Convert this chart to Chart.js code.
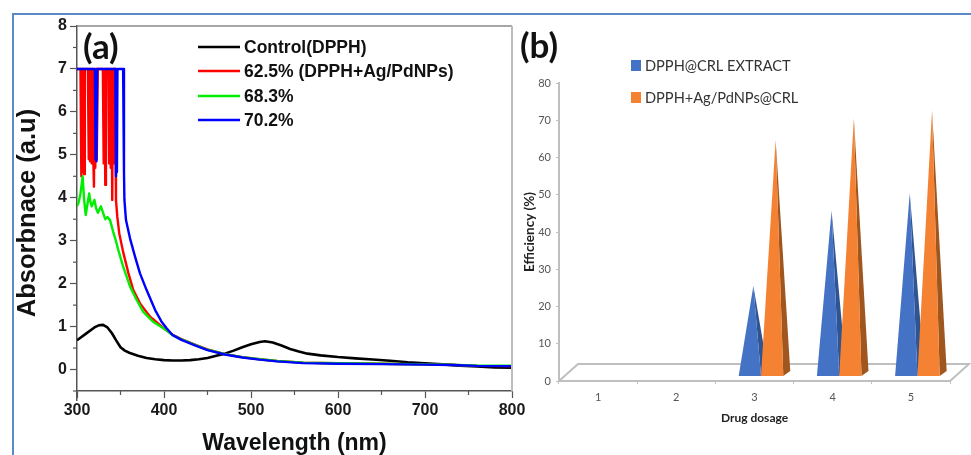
<!DOCTYPE html>
<html>
<head>
<meta charset="utf-8">
<script src="https://cdn.jsdelivr.net/npm/chart.js@4"></script>
<style>
html,body{margin:0;padding:0;background:#fff;width:971px;height:455px;overflow:hidden}
#frame{position:absolute;left:12px;top:13px;width:1000px;height:500px;border:2px solid #5b8ac6;box-sizing:border-box}
canvas{position:absolute;top:0}
#a{left:0}
#b{left:515px}
</style>
</head>
<body>
<div id="frame"></div>
<canvas id="a" width="540" height="455"></canvas>
<canvas id="b" width="456" height="455"></canvas>
<script>
const wlControl=[300,310,320,325,330,335,340,345,350,355,360,370,380,390,400,410,420,430,440,450,460,470,480,490,500,510,516,525,535,545,555,565,580,600,620,640,660,680,700,720,740,760,780,800];
const absControl=[0.68,0.83,0.98,1.03,1.04,0.98,0.85,0.68,0.52,0.44,0.39,0.32,0.27,0.24,0.22,0.21,0.21,0.22,0.24,0.27,0.32,0.37,0.44,0.52,0.59,0.64,0.66,0.63,0.56,0.48,0.42,0.37,0.33,0.29,0.26,0.235,0.205,0.17,0.145,0.12,0.09,0.07,0.05,0.04];
const wlRed=[300,304,305,305.8,306.6,307.4,308.2,309,309.8,312.5,313.5,314.3,315,316,317,317.8,318.6,319.5,320.3,321,322,322.7,324,329.7,330.7,331.5,332.5,333.3,334.3,336,337,337.8,338.8,339.5,340.5,341.4,342.2,343,343.7,344.8,346.3,348.6,353,359,364.7,372.4,384,401,410,420,437,450,470,490,510,530,560,600,650,700,730,760,800];
const absRed=[7,7,4.5,7,4.6,7,4.55,7,7,7,4.9,7,4.85,7,4.8,7,5.0,4.26,7,4.7,7,4.9,7,7,4.8,7,4.3,7,7,7,4.8,7,4.7,7,3.95,7,4.8,7,7,3.95,3.56,3.17,2.74,2.25,1.85,1.54,1.23,0.94,0.81,0.71,0.57,0.47,0.36,0.29,0.24,0.2,0.16,0.145,0.135,0.12,0.11,0.085,0.08];
const wlGreen=[300,302,304,306.5,308,310,312,314,315.5,317,320,322,324,327.5,330,332.5,335,338,341.7,344,347.5,353,361,368.6,376,387,401,410,420,437,450,470,490,510,530,560,600,650,700,730,760,800];
const absGreen=[3.8,3.9,4.1,4.5,4.0,3.6,3.85,4.1,3.9,3.8,3.95,3.75,3.65,3.8,3.65,3.5,3.55,3.48,3.2,3.05,2.78,2.4,1.93,1.62,1.35,1.12,0.94,0.8,0.7,0.56,0.46,0.36,0.29,0.24,0.2,0.16,0.145,0.135,0.12,0.11,0.09,0.09];
const wlBlue=[300,320.5,321.3,321.9,322.4,323,344,344.8,345.4,345.9,346.5,353,354,354.5,356.3,361,366.7,372.4,380,389.7,397,403,410,420,437,450,470,490,510,530,560,600,650,700,730,760,800];
const absBlue=[7,7,4.9,6.5,4.85,7,7,4.5,6.5,4.6,7,7,4.6,3.95,3.48,3.05,2.63,2.24,1.85,1.39,1.12,0.96,0.8,0.69,0.55,0.45,0.35,0.28,0.23,0.19,0.15,0.135,0.125,0.115,0.105,0.085,0.08];
const labelsA=["Control(DPPH)","62.5% (DPPH+Ag/PdNPs)","68.3%","70.2%"];
const dosage=["1","2","3","4","5"];
const effExtract=[null,null,25.5,45.7,50.4];
const effNPs=[null,null,64.7,70.6,72.6];
const labelsB=["DPPH@CRL EXTRACT","DPPH+Ag/PdNPs@CRL"];

const pts=(xs,ys)=>xs.map((x,i)=>({x,y:ys[i]}));
const ARIAL='"Liberation Sans",Arial,sans-serif';
const LATO='Lato,"Open Sans",sans-serif';
const AXIS_A='#555';

const decorA={id:'decorA',
  afterLayout(c){c.scales.y.bottom+=9;},
  afterDraw(c){
    const g=c.ctx,{left,right,top,bottom}=c.chartArea;
    g.save();
    g.strokeStyle='#8a8a8a';g.lineWidth=1.5;
    g.beginPath();g.moveTo(left,top);g.lineTo(right,top);g.stroke();
    g.strokeStyle='#bdbdbd';g.lineWidth=2;
    g.beginPath();g.moveTo(right,top);g.lineTo(right,bottom);g.stroke();
    g.strokeStyle=AXIS_A;g.lineWidth=1.2;
    c.scales.x.ticks.forEach(t=>{if(t.value%100!==0){const p=c.scales.x.getPixelForValue(t.value);g.beginPath();g.moveTo(p,bottom);g.lineTo(p,bottom+4);g.stroke();}});
    c.scales.y.ticks.forEach(t=>{if(t.value%1!==0){const p=c.scales.y.getPixelForValue(t.value);g.beginPath();g.moveTo(left,p);g.lineTo(left-4,p);g.stroke();}});
    g.fillStyle='#111';g.font='bold 35px '+LATO;g.textBaseline='middle';g.textAlign='left';
    g.fillText('(a)',83,48);
    const ys=[47,71,96,120];
    g.font='bold 17.5px '+ARIAL;
    c.data.datasets.forEach((d,i)=>{
      g.strokeStyle=d.borderColor;g.lineWidth=d.borderWidth;
      g.beginPath();g.moveTo(198,ys[i]);g.lineTo(240,ys[i]);g.stroke();
      g.fillStyle='#111';g.fillText(d.label,244,ys[i]+1);
    });
    g.restore();
  }};

new Chart(document.getElementById('a'),{
  type:'scatter',
  data:{datasets:[
    {label:labelsA[0],data:pts(wlControl,absControl),borderColor:'#000',borderWidth:2.6,order:4},
    {label:labelsA[1],data:pts(wlRed,absRed),borderColor:'#ff0000',borderWidth:2.4,order:3},
    {label:labelsA[2],data:pts(wlGreen,absGreen),borderColor:'#00ee00',borderWidth:2.4,order:2},
    {label:labelsA[3],data:pts(wlBlue,absBlue),borderColor:'#0000ff',borderWidth:2.4,order:1}
  ]},
  options:{
    responsive:false,animation:false,
    layout:{padding:{top:26,right:28,left:0,bottom:0}},
    elements:{point:{radius:0},line:{tension:0,borderJoinStyle:'round'}},
    datasets:{scatter:{showLine:true}},
    plugins:{legend:{display:false},tooltip:{enabled:false}},
    scales:{
      x:{type:'linear',min:300,max:800,
        afterFit(s){s.height=64;},
        border:{color:AXIS_A,width:1.5},
        grid:{drawOnChartArea:false,tickLength:7,tickWidth:1.2,tickColor:c=>c.tick&&c.tick.value%100===0?AXIS_A:'transparent'},
        ticks:{stepSize:50,autoSkip:false,maxRotation:0,padding:3,color:'#1a1a1a',font:{family:ARIAL,weight:'bold',size:16},callback:v=>v%100===0?String(v):''},
        title:{display:true,text:'Wavelength (nm)',color:'#111',padding:{top:0,bottom:0},font:{family:ARIAL,weight:'bold',size:23,lineHeight:1}}
      },
      y:{type:'linear',min:-0.5,max:8,
        afterFit(s){s.width=77;},
        border:{color:AXIS_A,width:1.5},
        grid:{drawOnChartArea:false,tickLength:7,tickWidth:1.2,tickColor:c=>c.tick&&c.tick.value%1===0?AXIS_A:'transparent'},
        ticks:{stepSize:0.5,autoSkip:false,padding:3,color:'#1a1a1a',font:{family:ARIAL,weight:'bold',size:16},callback:v=>v%1===0?String(v):''},
        title:{display:true,text:'Absorbnace (a.u)',color:'#111',padding:{top:15,bottom:0},font:{family:ARIAL,weight:'bold',size:25.5,lineHeight:1}}
      }
    }
  },
  plugins:[decorA]
});

const FLOOR_VALUE=1.34;
const faces=[{front:'#4472c4',side:'#2f5490'},{front:'#f58232',side:'#a0561f'}];
const cones={id:'cones',
  beforeDatasetsDraw(c){
    const g=c.ctx,{left,right,bottom}=c.chartArea;
    g.save();g.strokeStyle='#bfbfbf';g.lineWidth=2;
    g.beginPath();g.moveTo(left,bottom);g.lineTo(left+19,bottom-17);g.lineTo(right+19,bottom-17);g.lineTo(right,bottom);g.stroke();
    g.restore();
  },
  afterDatasetsDraw(c){
    const g=c.ctx;
    g.save();
    const shift=6.5,dx=7,dy=5;
    c.data.datasets.forEach((d,i)=>{
      c.getDatasetMeta(i).data.forEach((el,j)=>{
        if(d.data[j]==null)return;
        const cx=el.x+shift,hw=el.width/2,ax=cx+3.5;
        g.fillStyle=faces[i].side;
        g.beginPath();g.moveTo(ax,el.y);g.lineTo(cx+hw,el.base);g.lineTo(cx+hw+dx,el.base-dy);g.closePath();g.fill();
        g.fillStyle=faces[i].front;
        g.beginPath();g.moveTo(ax,el.y);g.lineTo(cx-hw,el.base);g.lineTo(cx+hw,el.base);g.closePath();g.fill();
      });
    });
    g.fillStyle='#111';g.font='bold 35px '+LATO;g.textBaseline='middle';g.textAlign='left';
    g.fillText('(b)',5,47);
    const ys=[66,98];
    g.font='14.6px '+LATO;
    c.data.datasets.forEach((d,i)=>{
      g.fillStyle=faces[i].front;g.fillRect(116,ys[i]-6,10,11);
      g.fillStyle='#333';g.fillText(d.label,130,ys[i]);
    });
    g.restore();
  }};

new Chart(document.getElementById('b'),{
  type:'bar',
  data:{labels:dosage,datasets:[
    {label:labelsB[0],data:effExtract,base:FLOOR_VALUE,backgroundColor:'transparent'},
    {label:labelsB[1],data:effNPs,base:FLOOR_VALUE,backgroundColor:'transparent'}
  ]},
  options:{
    responsive:false,animation:false,
    layout:{padding:{top:83,right:21,left:0,bottom:0}},
    plugins:{legend:{display:false},tooltip:{enabled:false}},
    datasets:{bar:{barPercentage:1,categoryPercentage:0.57}},
    scales:{
      x:{type:'category',offset:true,
        afterFit(s){s.height=74;},
        border:{color:'#bfbfbf',width:2},
        grid:{offset:true,drawOnChartArea:false,tickLength:3,tickColor:'#bfbfbf'},
        ticks:{maxRotation:0,padding:7,color:'#555',font:{family:LATO,size:11}},
        title:{display:true,text:'Drug dosage',color:'#222',padding:{top:0,bottom:31},font:{family:LATO,weight:'bold',size:12,lineHeight:1}}
      },
      y:{type:'linear',min:0,max:80,
        afterFit(s){s.width=44;},
        border:{color:'#bfbfbf',width:2},
        grid:{drawOnChartArea:false,tickLength:3,tickColor:'#bfbfbf'},
        ticks:{stepSize:10,padding:5,color:'#555',font:{family:LATO,size:11}},
        title:{display:true,text:'Efficiency (%)',color:'#222',padding:{top:8,bottom:0},font:{family:LATO,weight:'bold',size:13.5,lineHeight:1}}
      }
    }
  },
  plugins:[cones]
});
</script>
</body>
</html>
